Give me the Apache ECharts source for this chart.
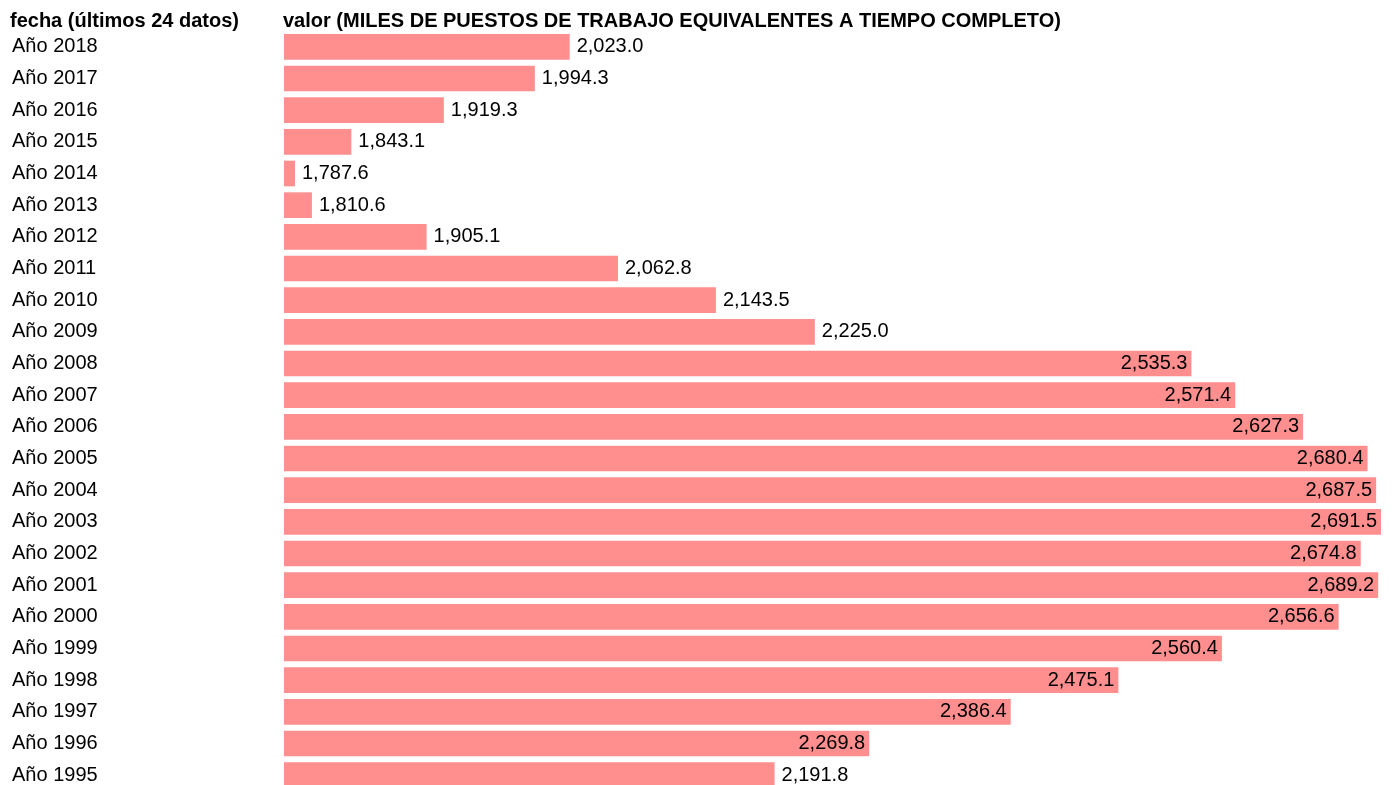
<!DOCTYPE html>
<html>
<head>
<meta charset="utf-8">
<script src="https://cdn.jsdelivr.net/npm/echarts@6.0.0/dist/echarts.min.js"></script>
<style>
  html, body { margin: 0; padding: 0; background: #fff; }
  #chart { width: 1393px; height: 785px; }
</style>
</head>
<body>
<div id="chart"></div>
<script>
// categorías (años) y valores, de arriba a abajo
const years = [
  'Año 2018', 'Año 2017', 'Año 2016', 'Año 2015', 'Año 2014', 'Año 2013',
  'Año 2012', 'Año 2011', 'Año 2010', 'Año 2009', 'Año 2008', 'Año 2007',
  'Año 2006', 'Año 2005', 'Año 2004', 'Año 2003', 'Año 2002', 'Año 2001',
  'Año 2000', 'Año 1999', 'Año 1998', 'Año 1997', 'Año 1996', 'Año 1995'
];
const values = [
  2023.0, 1994.3, 1919.3, 1843.1, 1787.6, 1810.6,
  1905.1, 2062.8, 2143.5, 2225.0, 2535.3, 2571.4,
  2627.3, 2680.4, 2687.5, 2691.5, 2674.8, 2689.2,
  2656.6, 2560.4, 2475.1, 2386.4, 2269.8, 2191.8
];
const headerLeft = 'fecha (últimos 24 datos)';
const headerRight = 'valor (MILES DE PUESTOS DE TRABAJO EQUIVALENTES A TIEMPO COMPLETO)';

const FONT = '"Liberation Sans", Arial, sans-serif';
const minV = Math.min(...values);
const maxV = Math.max(...values);
const mid = (minV + maxV) / 2;

const fmt = v => v.toLocaleString('en-US', { minimumFractionDigits: 1, maximumFractionDigits: 1 });

// etiqueta dentro de la barra si la barra supera la mitad del ancho
const seriesData = values.map(v => ({
  value: v,
  label: v > mid
    ? { position: 'insideRight', distance: 4 }
    : { position: 'right', distance: 7 }
}));

const chart = echarts.init(document.getElementById('chart'));
chart.setOption({
  animation: false,
  title: [
    { text: headerLeft, left: 5, top: 6, textStyle: { fontFamily: FONT, fontSize: 20, fontWeight: 'bold', color: '#000' } },
    { text: headerRight, left: 278, top: 6, textStyle: { fontFamily: FONT, fontSize: 20, fontWeight: 'bold', color: '#000' } }
  ],
  grid: { left: 284, right: 12, top: 31, height: 760, outerBoundsMode: 'none' },
  xAxis: {
    type: 'value',
    min: minV,
    max: maxV,
    startValue: minV,
    axisLine: { show: false },
    axisTick: { show: false },
    axisLabel: { show: false },
    splitLine: { show: false }
  },
  yAxis: {
    type: 'category',
    inverse: true,
    data: years,
    axisLine: { show: false },
    axisTick: { show: false },
    axisLabel: { align: 'left', margin: 272, fontFamily: FONT, fontSize: 20, color: '#000' }
  },
  series: [{
    type: 'bar',
    data: seriesData,
    barCategoryGap: '19%',
    barMinHeight: 11,
    itemStyle: { color: '#ff8f8f' },
    label: {
      show: true,
      fontFamily: FONT,
      fontSize: 20,
      color: '#000',
      formatter: p => fmt(p.value)
    }
  }]
});
</script>
</body>
</html>
